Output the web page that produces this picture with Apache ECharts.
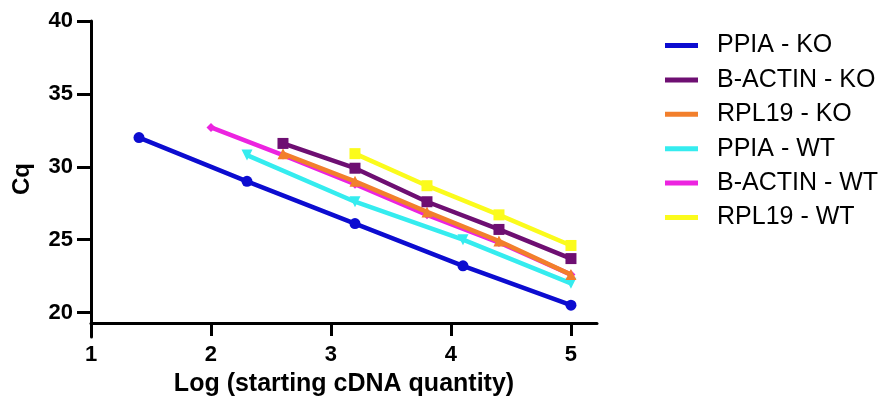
<!DOCTYPE html>
<html>
<head>
<meta charset="utf-8">
<script src="https://cdn.jsdelivr.net/npm/echarts@6/dist/echarts.min.js"></script>
<style>
  html, body { margin: 0; padding: 0; background: #fff; }
  #chart { width: 883px; height: 411px; }
</style>
</head>
<body>
<div id="chart"></div>
<script>
// значения
const seriesNames = ['PPIA - KO', 'B-ACTIN - KO', 'RPL19 - KO', 'PPIA - WT', 'B-ACTIN - WT', 'RPL19 - WT'];

const ppiaKoX = [1.4, 2.3, 3.2, 4.1, 5.0];
const ppiaKoY = [32.0, 29.0, 26.1, 23.2, 20.5];

const actinKoX = [2.6, 3.2, 3.8, 4.4, 5.0];
const actinKoY = [31.6, 29.9, 27.6, 25.7, 23.7];

const rplKoX = [2.6, 3.2, 3.8, 4.4, 5.0];
const rplKoY = [30.9, 29.0, 26.9, 24.9, 22.6];

const ppiaWtX = [2.3, 3.2, 4.1, 5.0];
const ppiaWtY = [30.8, 27.6, 25.0, 22.0];

const actinWtX = [2.0, 2.6, 3.2, 3.8, 4.4, 5.0];
const actinWtY = [32.7, 30.8, 28.8, 26.7, 24.8, 22.6];

const rplWtX = [3.2, 3.8, 4.4, 5.0];
const rplWtY = [30.9, 28.7, 26.7, 24.6];

const xTicks = [1, 2, 3, 4, 5];
const yTicks = [20, 25, 30, 35, 40];

const seriesX = [ppiaKoX, actinKoX, rplKoX, ppiaWtX, actinWtX, rplWtX];
const seriesY = [ppiaKoY, actinKoY, rplKoY, ppiaWtY, actinWtY, rplWtY];

const colors = ['#0c0cd0', '#6e0f72', '#f27f2c', '#35ecef', '#ec24e0', '#fbfb1c'];
const symbols = ['circle', 'rect', 'triangle', 'triangle', 'diamond', 'rect'];
const symbolSizes = [11, 11, 11, 11, 9, 11];
const symbolRotates = [0, 0, 0, 180, 0, 0];

const chart = echarts.init(document.getElementById('chart'));

const font = 'Liberation Sans, Arial, sans-serif';
const axisLineStyle = { color: '#000', width: 3 };

const option = {
    animation: false,
    grid: { left: 91, top: 21, width: 506, height: 316 },
    xAxis: {
        type: 'value',
        min: 1,
        max: 5.217,
        offset: -14,
        splitLine: { show: false },
        axisLine: { lineStyle: axisLineStyle },
        axisTick: { customValues: xTicks, length: 13, lineStyle: axisLineStyle },
        axisLabel: {
            customValues: xTicks,
            margin: 21,
            fontFamily: font, fontSize: 22, fontWeight: 'bold', color: '#000'
        },
        name: 'Log (starting cDNA quantity)',
        nameLocation: 'middle',
        nameGap: 49,
        nameTextStyle: { fontFamily: font, fontSize: 25, fontWeight: 'bold', color: '#000' }
    },
    yAxis: {
        type: 'value',
        min: 18.32,
        max: 40,
        splitLine: { show: false },
        axisLine: { lineStyle: axisLineStyle },
        axisTick: { customValues: yTicks, length: 14, lineStyle: axisLineStyle },
        axisLabel: {
            customValues: yTicks,
            margin: 18,
            fontFamily: font, fontSize: 22, fontWeight: 'bold', color: '#000'
        },
        name: 'Cq',
        nameLocation: 'middle',
        nameGap: 57,
        nameTextStyle: { fontFamily: font, fontSize: 24, fontWeight: 'bold', color: '#000' }
    },
    legend: {
        orient: 'vertical',
        left: 660,
        top: 28,
        itemWidth: 33,
        itemHeight: 5,
        itemGap: 9.4,
        textStyle: { fontFamily: font, fontSize: 25, color: '#000', padding: [0, 0, 0, 14] },
        data: seriesNames.map(name => ({ name: name, icon: 'rect' }))
    },
    series: seriesNames.map((name, i) => ({
        name: name,
        type: 'line',
        z: 10 - i,
        data: seriesX[i].map((x, j) => [x, seriesY[i][j]]),
        symbol: symbols[i],
        symbolSize: symbolSizes[i],
        symbolRotate: symbolRotates[i],
        showAllSymbol: true,
        color: colors[i],
        lineStyle: { width: 4.5, color: colors[i] },
        itemStyle: { color: colors[i] }
    }))
};

chart.setOption(option);
</script>
</body>
</html>
